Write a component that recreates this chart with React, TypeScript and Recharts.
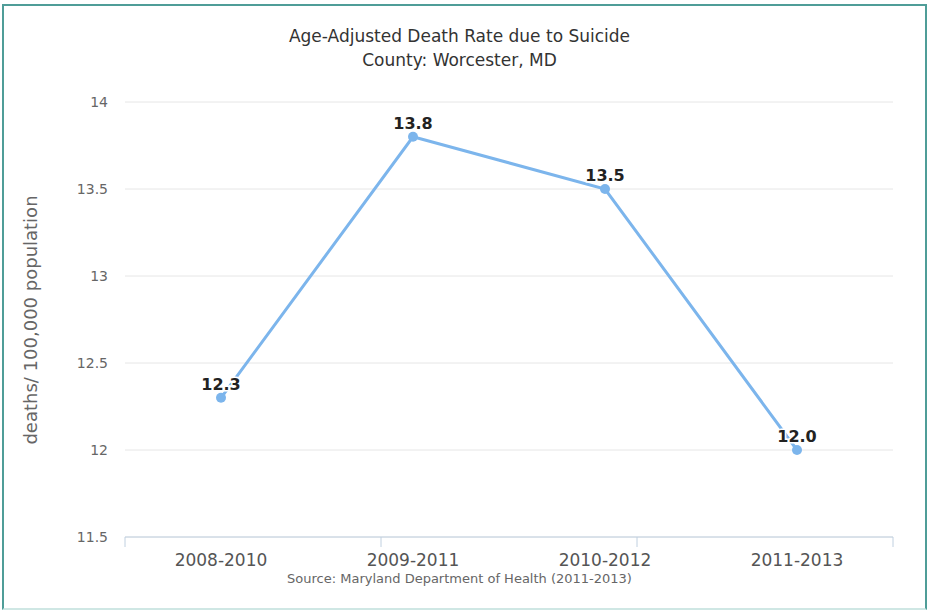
import React from 'react';
import { LineChart, Line, XAxis, YAxis, CartesianGrid, LabelList } from 'recharts';

const periods = ['2008-2010', '2009-2011', '2010-2012', '2011-2013'];
const rates = [12.3, 13.8, 13.5, 12.0];
const yTicks = [11.5, 12, 12.5, 13, 13.5, 14];
const boundaryTicks = [0, 1, 2, 3, 4];

const data = periods.map((period, i) => ({ period, rate: rates[i] }));

const FONT = '"DejaVu Sans", Verdana, sans-serif';

export default function App() {
  return (
    <div style={{ position: 'relative', width: 927, height: 611, background: '#fff', fontFamily: FONT }}>
      <style>{`body { margin: 0; }`}</style>
      <div
        style={{
          position: 'absolute',
          left: 2,
          top: 4,
          width: 921,
          height: 602,
          borderLeft: '2px solid #4f9d98',
          borderTop: '2px solid #4f9d98',
          borderRight: '2px solid #4f9d98',
          borderBottom: '2px solid #cfe7e4',
        }}
      />
      <div style={{ position: 'absolute', left: 0, width: 919, top: 24, textAlign: 'center', fontSize: 17, color: '#333', lineHeight: '24px' }}>
        Age-Adjusted Death Rate due to Suicide
        <br />
        County: Worcester, MD
      </div>
      <div
        style={{
          position: 'absolute',
          left: 30,
          top: 320,
          transform: 'translate(-50%, -50%) rotate(-90deg)',
          whiteSpace: 'nowrap',
          fontSize: 18,
          color: '#666',
        }}
      >
        deaths/ 100,000 population
      </div>
      <div style={{ position: 'absolute', left: 0, width: 919, top: 571, textAlign: 'center', fontSize: 13, color: '#666' }}>
        Source: Maryland Department of Health (2011-2013)
      </div>
      <div style={{ position: 'absolute', left: 0, top: 0 }}>
        <LineChart width={927} height={611} data={data} margin={{ top: 102, right: 34, bottom: 22, left: 55 }}>
          <CartesianGrid xAxisId="cat" vertical={false} stroke="#e6e6e6" />
          <XAxis
            xAxisId="bounds"
            type="number"
            domain={[0, 4]}
            ticks={boundaryTicks}
            allowDataOverflow
            stroke="#c0d0e0"
            tickSize={10}
            tickFormatter={() => ''}
            height={12}
          />
          <XAxis
            xAxisId="cat"
            dataKey="period"
            axisLine={false}
            tickLine={false}
            padding={{ left: 96, right: 96 }}
            tick={{ fontSize: 17, fill: '#555', fontFamily: FONT }}
            tickMargin={-1}
            height={40}
          />
          <YAxis
            domain={[11.5, 14]}
            ticks={yTicks}
            axisLine={false}
            tickLine={false}
            tickSize={0}
            tickMargin={17}
            width={70}
            tick={{ fontSize: 14, fill: '#666', fontFamily: FONT }}
          />
          <Line
            xAxisId="cat"
            dataKey="rate"
            stroke="#7cb5ec"
            strokeWidth={3}
            dot={{ r: 5, fill: '#7cb5ec', stroke: '#7cb5ec', strokeWidth: 0 }}
            isAnimationActive={false}
          >
            <LabelList
              dataKey="rate"
              position="top"
              offset={8}
              formatter={(v: number) => v.toFixed(1)}
              style={{ fontSize: 16, fontWeight: 'bold', fill: '#222', fontFamily: FONT, stroke: '#fff', strokeWidth: 3, paintOrder: 'stroke' }}
            />
          </Line>
        </LineChart>
      </div>
    </div>
  );
}
